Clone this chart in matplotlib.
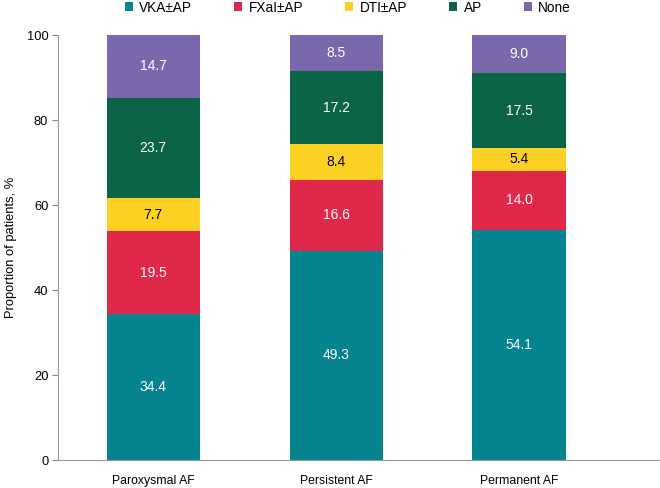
import numpy as np
import matplotlib.pyplot as plt

plt.rcParams['font.family'] = ['Liberation Sans', 'DejaVu Sans']

groups = ['Paroxysmal AF', 'Persistent AF', 'Permanent AF']
series = ['VKA±AP', 'FXaI±AP', 'DTI±AP', 'AP', 'None']
vka = [34.4, 49.3, 54.1]
fxai = [19.5, 16.6, 14.0]
dti = [7.7, 8.4, 5.4]
ap = [23.7, 17.2, 17.5]
none = [14.7, 8.5, 9.0]

cores = ['#05838F', '#E0284A', '#FDD123', '#0B6446', '#7B68AC']
cor_txt = ['white', 'white', 'black', 'white', 'white']

fig = plt.figure(figsize=(6.6, 4.88), dpi=100)
ax = fig.add_axes([0.088, 0.057, 0.912, 0.871])

x = np.arange(len(groups))
base = np.zeros(len(groups))
for vals, cor, ct, nome in zip([vka, fxai, dti, ap, none], cores, cor_txt, series):
    vals = np.array(vals)
    ax.bar(x, vals, 0.51, bottom=base, color=cor, label=nome)
    for xi, b, v in zip(x, base, vals):
        ax.text(xi, b + v / 2, f"{v:.1f}", ha='center', va='center',
                color=ct, fontsize=10)
    base = base + vals

ax.set_xlim(-0.52, 2.77)
ax.set_ylim(0, 100)
ax.set_yticks([0, 20, 40, 60, 80, 100])
ax.set_xticks(x)
ax.set_xticklabels(groups, fontsize=8.8)
ax.tick_params(axis='x', length=0, pad=11)
ax.tick_params(axis='y', labelsize=9.3, length=4, color='#888888', pad=3)
ax.set_ylabel('Proportion of patients, %', fontsize=9.3, labelpad=7)
for s in ['top', 'right']:
    ax.spines[s].set_visible(False)
for s in ['left', 'bottom']:
    ax.spines[s].set_color('#999999')

fig.legend(loc='upper center', bbox_to_anchor=(0.527, 1.024), ncol=5,
           frameon=False, fontsize=9.8, handlelength=0.6, handleheight=0.6,
           columnspacing=3.1, handletextpad=0.45)

fig.savefig('out.png', dpi=100)
